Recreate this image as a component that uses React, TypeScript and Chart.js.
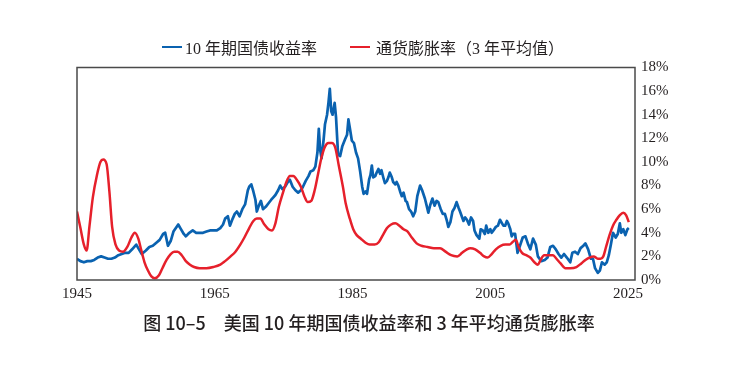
import React, { useEffect, useRef } from "react";
import { Chart, registerables } from "chart.js";
Chart.register(...registerables);

const xTickYears = [1945, 1965, 1985, 2005, 2025];
const yTickValues = [0, 2, 4, 6, 8, 10, 12, 14, 16, 18];

const bondLabel = "10 年期国债收益率";
const inflLabel = "通货膨胀率（3 年平均值）";
const titleText = "图 10–5　美国 10 年期国债收益率和 3 年平均通货膨胀率";

// [year, 10-year treasury yield %]
const bondYieldPoints: [number, number][] = [
  [1945.0, 1.8], [1945.5, 1.6], [1946.0, 1.5], [1946.5, 1.6], [1947.0, 1.6], [1947.5, 1.7],
  [1948.0, 1.9], [1948.5, 2.0], [1949.0, 1.9], [1949.5, 1.8], [1950.0, 1.8], [1950.5, 1.9],
  [1951.0, 2.1], [1951.5, 2.2], [1952.0, 2.3], [1952.5, 2.3], [1953.0, 2.6], [1953.6, 3.0],
  [1954.0, 2.6], [1954.4, 2.2], [1955.0, 2.5], [1955.5, 2.8], [1956.0, 2.9], [1956.6, 3.2],
  [1957.0, 3.4], [1957.5, 3.9], [1957.8, 4.0], [1958.2, 2.9], [1958.6, 3.3], [1959.0, 4.1],
  [1959.7, 4.7], [1960.0, 4.4], [1960.5, 3.9], [1960.8, 3.7], [1961.3, 4.0], [1961.8, 4.2],
  [1962.3, 4.0], [1962.8, 4.0], [1963.3, 4.0], [1963.8, 4.1], [1964.3, 4.2], [1964.8, 4.2],
  [1965.3, 4.2], [1965.8, 4.4], [1966.2, 4.7], [1966.5, 5.2], [1966.9, 5.4], [1967.2, 4.6],
  [1967.6, 5.2], [1967.9, 5.6], [1968.2, 5.8], [1968.6, 5.4], [1969.0, 6.0], [1969.4, 6.4],
  [1969.8, 7.6], [1970.0, 7.9], [1970.3, 8.1], [1970.6, 7.5], [1970.9, 6.8], [1971.1, 5.8],
  [1971.4, 6.3], [1971.7, 6.7], [1972.0, 6.0], [1972.4, 6.2], [1972.8, 6.5], [1973.2, 6.8],
  [1973.5, 7.0], [1973.8, 7.2], [1974.2, 7.6], [1974.5, 8.0], [1974.8, 7.7], [1975.2, 7.9],
  [1975.6, 8.3], [1975.9, 8.5], [1976.3, 7.9], [1976.7, 7.6], [1977.1, 7.4], [1977.5, 7.6],
  [1977.8, 7.9], [1978.2, 8.4], [1978.6, 8.8], [1978.9, 9.2], [1979.3, 9.3], [1979.6, 9.6],
  [1979.9, 10.8], [1980.1, 12.8], [1980.3, 11.0], [1980.5, 10.3], [1980.8, 11.9], [1981.0, 13.2],
  [1981.3, 14.0], [1981.5, 15.0], [1981.7, 16.2], [1981.9, 14.3], [1982.1, 14.0], [1982.4, 15.0],
  [1982.6, 13.8], [1982.9, 10.6], [1983.2, 10.5], [1983.5, 11.3], [1983.9, 11.9], [1984.2, 12.3],
  [1984.4, 13.6], [1984.6, 12.9], [1984.9, 11.8], [1985.2, 11.6], [1985.5, 10.8], [1985.8, 10.3],
  [1986.1, 9.2], [1986.4, 7.9], [1986.6, 7.3], [1986.9, 7.5], [1987.1, 7.3], [1987.4, 8.5],
  [1987.6, 8.9], [1987.8, 9.7], [1988.0, 8.7], [1988.3, 8.8], [1988.5, 9.1], [1988.75, 9.4],
  [1989.0, 9.0], [1989.2, 9.3], [1989.5, 8.6], [1989.7, 8.2], [1990.0, 8.4], [1990.2, 8.7],
  [1990.4, 9.1], [1990.7, 8.7], [1990.9, 8.3], [1991.2, 8.1], [1991.4, 8.3], [1991.65, 8.0],
  [1991.9, 7.5], [1992.15, 7.1], [1992.4, 7.4], [1992.7, 6.7], [1992.9, 6.6], [1993.2, 6.0],
  [1993.5, 5.8], [1993.8, 5.4], [1994.1, 5.8], [1994.4, 7.1], [1994.8, 8.0], [1995.1, 7.6],
  [1995.5, 6.9], [1995.8, 6.2], [1996.0, 5.7], [1996.3, 6.4], [1996.6, 6.9], [1996.9, 6.3],
  [1997.2, 6.7], [1997.45, 6.6], [1997.8, 6.0], [1998.1, 5.6], [1998.4, 5.6], [1998.7, 5.0],
  [1998.9, 4.5], [1999.2, 4.9], [1999.5, 5.8], [1999.8, 6.1], [2000.1, 6.6], [2000.4, 6.1],
  [2000.6, 5.8], [2000.85, 5.4], [2001.1, 5.0], [2001.35, 5.3], [2001.6, 5.1], [2001.9, 4.7],
  [2002.2, 5.3], [2002.5, 5.0], [2002.7, 4.2], [2003.0, 3.8], [2003.4, 3.5], [2003.6, 4.3],
  [2003.9, 4.2], [2004.2, 3.9], [2004.4, 4.6], [2004.7, 4.0], [2005.0, 4.3], [2005.2, 4.0],
  [2005.45, 4.2], [2005.8, 4.5], [2006.1, 4.6], [2006.4, 5.1], [2006.7, 4.8], [2006.9, 4.6],
  [2007.15, 4.6], [2007.4, 5.0], [2007.6, 4.8], [2007.9, 4.3], [2008.1, 3.7], [2008.3, 3.9],
  [2008.6, 3.9], [2008.95, 2.3], [2009.3, 2.9], [2009.7, 3.6], [2010.1, 3.7], [2010.5, 3.0],
  [2010.8, 2.6], [2011.2, 3.5], [2011.6, 3.0], [2011.9, 2.0], [2012.4, 1.6], [2012.9, 1.7],
  [2013.3, 1.9], [2013.7, 2.8], [2014.1, 2.9], [2014.5, 2.6], [2014.9, 2.2], [2015.3, 1.9],
  [2015.7, 2.2], [2016.1, 1.9], [2016.6, 1.5], [2016.9, 2.3], [2017.3, 2.4], [2017.7, 2.2],
  [2018.1, 2.7], [2018.5, 2.9], [2018.8, 3.1], [2019.2, 2.6], [2019.6, 1.8], [2019.9, 1.8],
  [2020.2, 1.0], [2020.6, 0.6], [2020.9, 0.8], [2021.2, 1.5], [2021.6, 1.3], [2021.9, 1.5],
  [2022.2, 2.1], [2022.5, 3.0], [2022.8, 4.0], [2023.2, 3.6], [2023.5, 3.9], [2023.8, 4.8],
  [2024.0, 4.0], [2024.3, 4.3], [2024.6, 3.8], [2024.9, 4.3], [2025.1, 4.4],
];

// [year, 3-year average inflation %]
const inflationPoints: [number, number][] = [
  [1945.0, 5.8], [1945.5, 4.4], [1946.0, 3.0], [1946.4, 2.5], [1946.8, 4.5], [1947.3, 7.0],
  [1947.9, 8.9], [1948.4, 10.0], [1948.8, 10.2], [1949.3, 9.8], [1949.7, 7.5], [1950.1, 4.5],
  [1950.6, 3.0], [1951.1, 2.5], [1951.7, 2.4], [1952.3, 2.8], [1952.9, 3.6], [1953.4, 4.0],
  [1953.9, 3.5], [1954.3, 2.6], [1954.8, 1.5], [1955.3, 0.8], [1955.8, 0.3], [1956.3, 0.15],
  [1956.9, 0.4], [1957.4, 1.0], [1958.0, 1.7], [1958.6, 2.2], [1959.1, 2.4], [1959.6, 2.4],
  [1960.2, 2.1], [1960.8, 1.6], [1961.4, 1.3], [1962.0, 1.1], [1962.8, 1.0], [1963.8, 1.0],
  [1964.8, 1.1], [1965.8, 1.3], [1966.5, 1.6], [1967.3, 2.0], [1968.0, 2.4], [1968.7, 3.0],
  [1969.3, 3.6], [1970.0, 4.4], [1970.6, 5.0], [1971.1, 5.2], [1971.6, 5.2], [1972.2, 4.7],
  [1972.8, 4.3], [1973.3, 4.2], [1973.8, 4.8], [1974.3, 6.2], [1974.9, 7.4], [1975.4, 8.3],
  [1975.9, 8.8], [1976.4, 8.8], [1977.0, 8.4], [1977.5, 7.9], [1978.0, 7.1], [1978.5, 6.6],
  [1979.0, 6.7], [1979.5, 7.6], [1980.0, 9.0], [1980.5, 10.4], [1981.0, 11.3], [1981.5, 11.6],
  [1982.0, 11.6], [1982.5, 11.2], [1983.0, 9.7], [1983.6, 7.9], [1984.0, 6.5], [1984.6, 5.2],
  [1985.1, 4.3], [1985.6, 3.8], [1986.2, 3.5], [1986.8, 3.2], [1987.5, 3.0], [1988.2, 3.0],
  [1988.8, 3.2], [1989.4, 3.8], [1990.0, 4.4], [1990.6, 4.7], [1991.2, 4.8], [1991.8, 4.6],
  [1992.4, 4.3], [1993.0, 4.1], [1993.6, 3.6], [1994.3, 3.1], [1995.0, 2.9], [1995.9, 2.8],
  [1996.8, 2.7], [1997.7, 2.7], [1998.5, 2.4], [1999.3, 2.1], [2000.2, 2.0], [2000.9, 2.3],
  [2001.6, 2.6], [2002.1, 2.7], [2002.8, 2.6], [2003.5, 2.3], [2004.1, 2.0], [2004.6, 1.9],
  [2005.2, 2.2], [2005.8, 2.6], [2006.5, 2.9], [2007.2, 3.0], [2007.8, 3.0], [2008.2, 3.2],
  [2008.7, 3.4], [2009.1, 2.8], [2009.6, 2.3], [2010.2, 2.1], [2010.8, 1.9], [2011.4, 1.5],
  [2011.9, 1.3], [2012.3, 1.7], [2012.8, 2.1], [2013.4, 2.1], [2014.1, 2.1], [2014.6, 1.8],
  [2015.2, 1.4], [2015.9, 1.0], [2016.6, 1.0], [2017.5, 1.1], [2018.2, 1.4], [2018.8, 1.7],
  [2019.4, 1.9], [2020.0, 2.0], [2020.6, 1.8], [2021.0, 1.8], [2021.4, 2.0], [2021.8, 2.8],
  [2022.3, 3.8], [2022.8, 4.6], [2023.3, 5.1], [2023.8, 5.5], [2024.3, 5.7], [2024.7, 5.5],
  [2025.1, 4.9],
];

const BLUE = "#0a62b0";
const RED = "#e6202b";
const SERIF = "'Liberation Serif', 'Times New Roman', serif";
const CJK = "'Liberation Serif', 'Noto Sans CJK SC', serif";

export default function App() {
  const ref = useRef<HTMLCanvasElement>(null);

  useEffect(() => {
    if (!ref.current) return;
    const frame = {
      id: "frame",
      afterDatasetsDraw(chart: any) {
        const { ctx, chartArea } = chart;
        ctx.save();
        ctx.strokeStyle = "#4a4a4a";
        ctx.lineWidth = 1.5;
        ctx.strokeRect(chartArea.left, chartArea.top, chartArea.right - chartArea.left, chartArea.bottom - chartArea.top);
        ctx.restore();
      },
    };
    const chart = new Chart(ref.current, {
      type: "line",
      data: {
        datasets: [
          {
            label: inflLabel,
            data: inflationPoints.map(([x, y]) => ({ x, y })),
            borderColor: RED,
            borderWidth: 2.5,
            pointRadius: 0,
            tension: 0.4,
            cubicInterpolationMode: "monotone",
            order: 0,
          },
          {
            label: bondLabel,
            data: bondYieldPoints.map(([x, y]) => ({ x, y })),
            borderColor: BLUE,
            borderWidth: 2.7,
            pointRadius: 0,
            tension: 0,
            borderJoinStyle: "round",
            order: 1,
          },
        ],
      },
      options: {
        responsive: false,
        animation: false,
        layout: { padding: { left: 77, top: 67.5, right: 0, bottom: 0 } },
        plugins: { legend: { display: false }, tooltip: { enabled: false }, title: { display: false } },
        scales: {
          x: {
            type: "linear",
            min: 1945,
            max: 2026,
            afterBuildTicks: (s: any) => {
              s.ticks = xTickYears.map((v) => ({ value: v }));
            },
            afterFit: (s: any) => {
              s.height = 91;
            },
            grid: { display: false, drawTicks: false },
            border: { display: false },
            ticks: {
              font: { family: SERIF, size: 15 },
              color: "#231f20",
              padding: 5,
              maxRotation: 0,
              autoSkip: false,
              callback: (v: any) => String(v),
            },
          },
          y: {
            position: "right",
            min: 0,
            max: 18,
            afterBuildTicks: (s: any) => {
              s.ticks = yTickValues.map((v) => ({ value: v }));
            },
            afterFit: (s: any) => {
              s.width = 117;
            },
            grid: { display: false, drawTicks: false },
            border: { display: false },
            ticks: {
              font: { family: SERIF, size: 15 },
              color: "#231f20",
              padding: 6,
              autoSkip: false,
              callback: (v: any) => v + "%",
            },
          },
        },
      },
      plugins: [frame],
    } as any);
    return () => chart.destroy();
  }, []);

  return (
    <div style={{ position: "absolute", left: 0, top: 0, width: 752, height: 371, background: "#fff", overflow: "hidden" }}>
      <canvas ref={ref} width={752} height={371} style={{ position: "absolute", left: 0, top: 0, width: 752, height: 371 }} />
      <div style={{ position: "absolute", left: 162, top: 36, height: 22, display: "flex", alignItems: "center", fontFamily: CJK, fontSize: 16, color: "#231f20", whiteSpace: "nowrap" }}>
        <span style={{ display: "inline-block", width: 20, height: 2.5, background: BLUE, marginRight: 3 }} />
        <span>{bondLabel}</span>
      </div>
      <div style={{ position: "absolute", left: 350, top: 36, height: 22, display: "flex", alignItems: "center", fontFamily: CJK, fontSize: 16, color: "#231f20", whiteSpace: "nowrap" }}>
        <span style={{ display: "inline-block", width: 20, height: 2.5, background: RED, marginRight: 6 }} />
        <span>{inflLabel}</span>
      </div>
      <div style={{ position: "absolute", left: 0, width: 752, top: 309, textAlign: "center", fontFamily: "'Noto Sans CJK SC', sans-serif", fontSize: 18, fontWeight: 500, color: "#231f20", whiteSpace: "nowrap", paddingRight: 14, boxSizing: "border-box" }}>
        {titleText}
      </div>
    </div>
  );
}
